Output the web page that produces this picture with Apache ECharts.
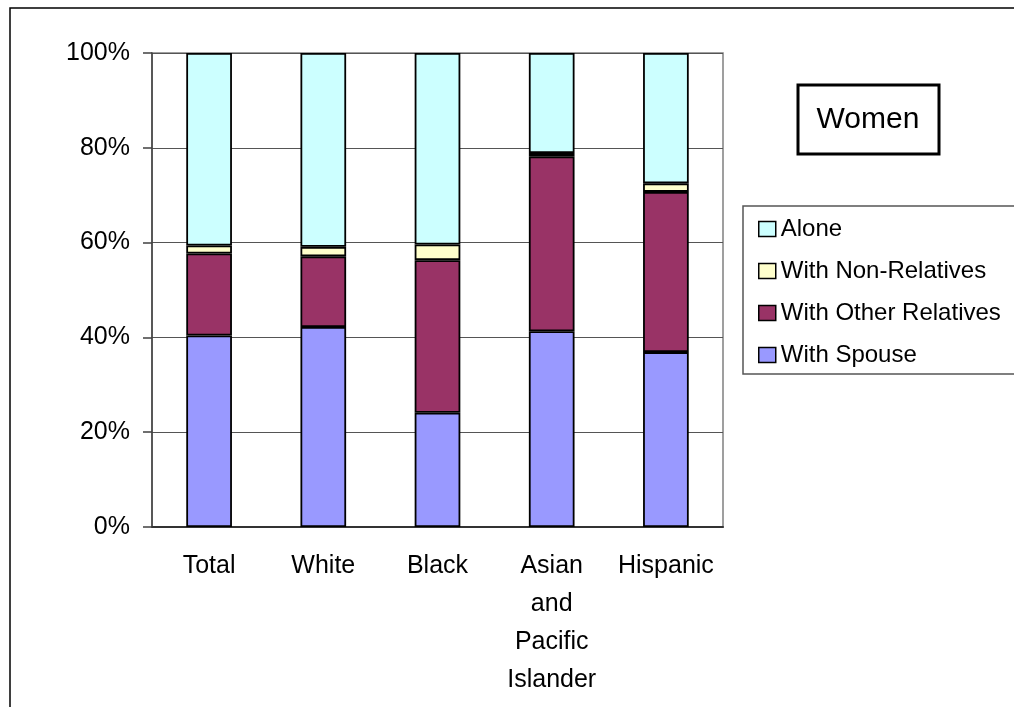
<!DOCTYPE html>
<html>
<head>
<meta charset="utf-8">
<script src="https://cdn.jsdelivr.net/npm/echarts@6/dist/echarts.min.js"></script>
<style>
  html, body { margin: 0; padding: 0; background: #fff; }
  #main { width: 1014px; height: 707px; }
</style>
</head>
<body>
<div id="main"></div>
<script>
// categories + percentages
const categories = ['Total', 'White', 'Black', 'Asian and Pacific Islander', 'Hispanic']
const withSpouse = [40.4, 42.2, 24.1, 41.3, 36.9]
const withOtherRelatives = [17.3, 14.9, 32.2, 36.9, 33.8]
const withNonRelatives = [1.7, 2.0, 3.3, 0.7, 1.8]
const alone = [40.6, 40.9, 40.4, 21.1, 27.5]
const yTicks = [0, 20, 40, 60, 80, 100]

const font = '"Liberation Sans", Arial, sans-serif'

const myChart = echarts.init(document.getElementById('main'))

function barSeries(name, data, color) {
  return {
    name: name,
    type: 'bar',
    stack: 'all',
    barWidth: '40%',
    data: data,
    itemStyle: { color: color, borderColor: '#000', borderWidth: 1.8 }
  }
}

myChart.setOption({
  animation: false,
  textStyle: { fontFamily: font },
  graphic: [
    // outer chart frame (runs off right / bottom edge)
    { type: 'rect', shape: { x: 10, y: 8, width: 1100, height: 800 },
      style: { fill: 'none', stroke: '#000', lineWidth: 1.5 }, z: 0 },
    // legend frame
    { type: 'rect', shape: { x: 743, y: 206, width: 400, height: 168 },
      style: { fill: '#fff', stroke: '#555', lineWidth: 1.5 }, z: 0 },
    // "Women" box
    { type: 'rect', shape: { x: 798, y: 85, width: 141, height: 69 },
      style: { fill: '#fff', stroke: '#000', lineWidth: 3 }, z: 5 },
    { type: 'text', x: 868, y: 120, z: 6,
      style: { text: 'Women', fontSize: 30, fontFamily: font, fill: '#000',
        align: 'center', verticalAlign: 'middle' } }
  ],
  grid: {
    left: 152, top: 53, right: 291, bottom: 180,
    show: true, borderColor: '#808080', borderWidth: 1.5
  },
  legend: {
    data: ['Alone', 'With Non-Relatives', 'With Other Relatives', 'With Spouse'],
    orient: 'vertical',
    icon: 'rect',
    left: 753,
    top: 210,
    itemWidth: 17,
    itemHeight: 15,
    itemGap: 14,
    selectedMode: false,
    itemStyle: { borderColor: '#000', borderWidth: 1.5 },
    textStyle: { fontSize: 24, lineHeight: 28, color: '#000', fontFamily: font }
  },
  xAxis: {
    type: 'category',
    data: categories,
    axisLine: { lineStyle: { color: '#333', width: 2 } },
    axisTick: { length: 8, lineStyle: { color: '#333', width: 1.5 } },
    axisLabel: {
      interval: 0,
      margin: 20,
      fontSize: 25,
      lineHeight: 38,
      color: '#000',
      formatter: v => v.split(' ').join('\n')
    }
  },
  yAxis: {
    type: 'value',
    min: yTicks[0],
    max: yTicks[yTicks.length - 1],
    interval: yTicks[1] - yTicks[0],
    axisLine: { show: true, lineStyle: { color: '#404040', width: 1.5 } },
    axisTick: { show: true, length: 9, lineStyle: { color: '#404040', width: 1.5 } },
    axisLabel: { margin: 22, fontSize: 25, color: '#000', formatter: '{value}%' },
    splitLine: { lineStyle: { color: '#555', width: 1 } }
  },
  series: [
    barSeries('With Spouse', withSpouse, '#9999FF'),
    barSeries('With Other Relatives', withOtherRelatives, '#993366'),
    barSeries('With Non-Relatives', withNonRelatives, '#FFFFCC'),
    barSeries('Alone', alone, '#CCFFFF')
  ]
})
</script>
</body>
</html>
